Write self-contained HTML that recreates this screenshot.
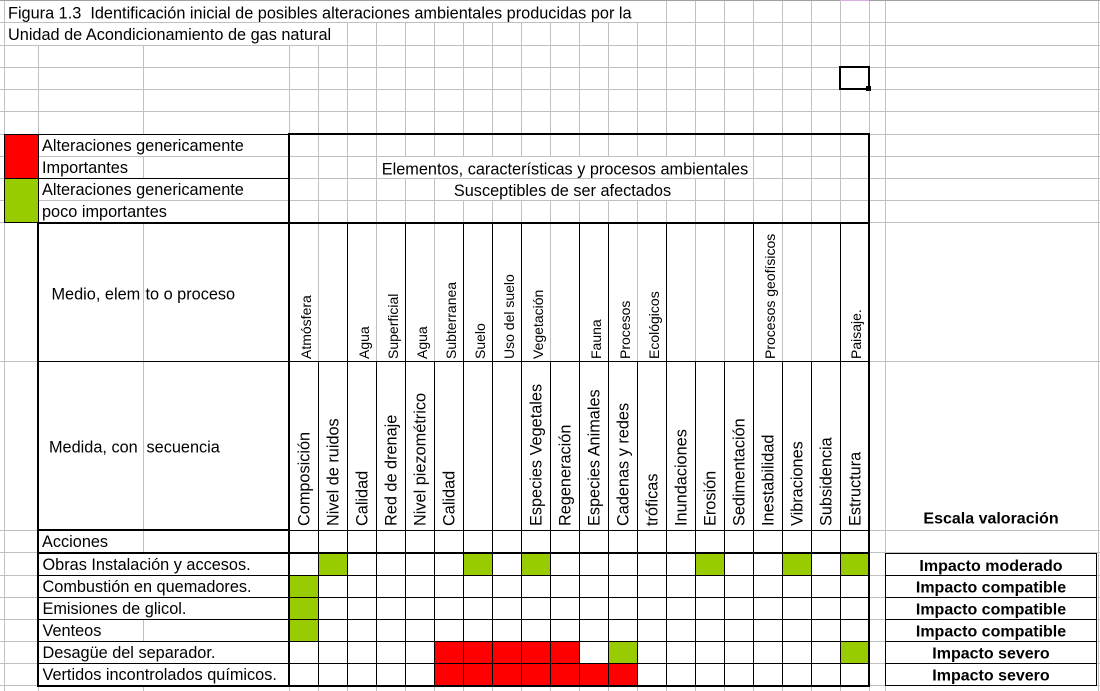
<!DOCTYPE html>
<html><head><meta charset="utf-8"><style>
html,body{margin:0;padding:0;background:#fff;}
svg{display:block;}
text{font-family:"Liberation Sans",Arial,sans-serif;font-size:16.3px;fill:#000;}
.b{font-weight:bold;font-size:16px;}
.s{font-size:14px;}
</style></head><body>
<svg width="1100" height="691" viewBox="0 0 1100 691" xmlns="http://www.w3.org/2000/svg">
<rect width="1100" height="691" fill="#fff"/>
<g shape-rendering="crispEdges">
<!-- gridlines -->
<g fill="#c0c0c0">
<rect x="4" y="0" width="1" height="691"/><rect x="38" y="0" width="1" height="691"/><rect x="143" y="0" width="1" height="691"/>
<rect x="289" y="0" width="1" height="691"/><rect x="318" y="0" width="1" height="691"/><rect x="347" y="0" width="1" height="691"/>
<rect x="376" y="0" width="1" height="691"/><rect x="405" y="0" width="1" height="691"/><rect x="434" y="0" width="1" height="691"/>
<rect x="463" y="0" width="1" height="691"/><rect x="492" y="0" width="1" height="691"/><rect x="521" y="0" width="1" height="691"/>
<rect x="550" y="0" width="1" height="691"/><rect x="579" y="0" width="1" height="691"/><rect x="608" y="0" width="1" height="691"/>
<rect x="637" y="0" width="1" height="691"/><rect x="666" y="0" width="1" height="691"/><rect x="695" y="0" width="1" height="691"/>
<rect x="724" y="0" width="1" height="691"/><rect x="753" y="0" width="1" height="691"/><rect x="782" y="0" width="1" height="691"/>
<rect x="811" y="0" width="1" height="691"/><rect x="840" y="0" width="1" height="691"/><rect x="869" y="0" width="1" height="691"/>
<rect x="885" y="0" width="1" height="691"/><rect x="1098" y="0" width="1" height="691"/>
<rect x="0" y="22" width="1100" height="1"/><rect x="0" y="45" width="1100" height="1"/><rect x="0" y="67" width="1100" height="1"/>
<rect x="0" y="89" width="1100" height="1"/><rect x="0" y="111" width="1100" height="1"/><rect x="0" y="134" width="1100" height="1"/>
<rect x="0" y="156" width="1100" height="1"/><rect x="0" y="178" width="1100" height="1"/><rect x="0" y="200" width="1100" height="1"/>
<rect x="0" y="222" width="1100" height="1"/><rect x="0" y="361" width="1100" height="1"/><rect x="0" y="530" width="1100" height="1"/>
<rect x="0" y="552" width="1100" height="1"/><rect x="0" y="575" width="1100" height="1"/><rect x="0" y="597" width="1100" height="1"/>
<rect x="0" y="619" width="1100" height="1"/><rect x="0" y="641" width="1100" height="1"/><rect x="0" y="663" width="1100" height="1"/>
<rect x="0" y="685" width="1100" height="1"/>
</g>
<rect x="0" y="0" width="1100" height="1" fill="#a0a0a0"/>
<rect x="840" y="0" width="29" height="1" fill="#d8b0e0"/>

<!-- hide gridlines under overflowing text -->
<g fill="#fff">
<rect x="5" y="1" width="661" height="21"/>
<rect x="5" y="23" width="340" height="22"/>
<rect x="139" y="135" width="10" height="21"/>
<rect x="139" y="179" width="10" height="21"/>
<rect x="139" y="201" width="10" height="21"/>
<rect x="400" y="157" width="330" height="21"/>
<rect x="458" y="179" width="213" height="21"/>
<rect x="139" y="554" width="10" height="21"/>
<rect x="139" y="576" width="10" height="21"/>
<rect x="139" y="598" width="10" height="21"/>
<rect x="139" y="642" width="10" height="21"/>
<rect x="139" y="664" width="10" height="21"/>
</g>

<!-- fills -->
<rect x="4" y="134" width="34" height="44" fill="#ff0000"/>
<rect x="4" y="178" width="34" height="44" fill="#99cc00"/>
<g fill="#99cc00">
<rect x="318" y="552" width="29" height="23"/>
<rect x="463" y="552" width="29" height="23"/>
<rect x="521" y="552" width="29" height="23"/>
<rect x="695" y="552" width="29" height="23"/>
<rect x="782" y="552" width="29" height="23"/>
<rect x="840" y="552" width="29" height="23"/>
<rect x="289" y="575" width="29" height="22"/>
<rect x="289" y="597" width="29" height="22"/>
<rect x="289" y="619" width="29" height="22"/>
<rect x="608" y="641" width="29" height="22"/>
<rect x="840" y="641" width="29" height="22"/>
</g>
<g fill="#ff0000">
<rect x="434" y="641" width="145" height="22"/>
<rect x="434" y="663" width="203" height="22"/>
</g>

<!-- black borders -->
<g fill="#000">
<!-- legend -->
<rect x="4" y="134" width="285" height="1"/>
<rect x="4" y="178" width="285" height="1"/>
<rect x="4" y="222" width="34" height="1"/>
<rect x="4" y="134" width="1" height="89"/>
<rect x="38" y="134" width="1" height="89"/>
<!-- thin horizontals -->
<rect x="38" y="361" width="831" height="1"/>
<rect x="289" y="530" width="580" height="1"/>
<rect x="38" y="575" width="831" height="1"/>
<rect x="38" y="597" width="831" height="1"/>
<rect x="38" y="619" width="831" height="1"/>
<rect x="38" y="641" width="831" height="1"/>
<rect x="38" y="663" width="831" height="1"/>
<!-- medio row verticals -->
<rect x="347" y="222" width="1" height="139"/><rect x="405" y="222" width="1" height="139"/>
<rect x="463" y="222" width="1" height="139"/><rect x="492" y="222" width="1" height="139"/>
<rect x="521" y="222" width="1" height="139"/><rect x="579" y="222" width="1" height="139"/>
<rect x="608" y="222" width="1" height="139"/><rect x="666" y="222" width="1" height="139"/>
<rect x="753" y="222" width="1" height="139"/><rect x="840" y="222" width="1" height="139"/>
<!-- lower verticals -->
<rect x="318" y="361" width="1" height="325"/><rect x="347" y="361" width="1" height="325"/>
<rect x="376" y="361" width="1" height="325"/><rect x="405" y="361" width="1" height="325"/>
<rect x="434" y="361" width="1" height="325"/><rect x="463" y="361" width="1" height="325"/>
<rect x="492" y="361" width="1" height="325"/><rect x="521" y="361" width="1" height="325"/>
<rect x="550" y="361" width="1" height="325"/><rect x="579" y="361" width="1" height="325"/>
<rect x="608" y="361" width="1" height="325"/><rect x="637" y="361" width="1" height="325"/>
<rect x="666" y="361" width="1" height="325"/><rect x="695" y="361" width="1" height="325"/>
<rect x="724" y="361" width="1" height="325"/><rect x="753" y="361" width="1" height="325"/>
<rect x="782" y="361" width="1" height="325"/><rect x="811" y="361" width="1" height="325"/>
<rect x="840" y="361" width="1" height="325"/>
<!-- thick -->
<rect x="288" y="133" width="582" height="2"/>
<rect x="37" y="222" width="833" height="2"/>
<rect x="37" y="529" width="253" height="2"/>
<rect x="37" y="552" width="833" height="2"/>
<rect x="37" y="685" width="833" height="2"/>
<rect x="37" y="222" width="2" height="465"/>
<rect x="288" y="133" width="2" height="554"/>
<rect x="868" y="133" width="2" height="554"/>
<!-- escala box -->
<rect x="885" y="553" width="1" height="133"/>
<rect x="1096" y="553" width="1" height="133"/>
<rect x="885" y="553" width="212" height="1"/>
<rect x="885" y="575" width="212" height="1"/>
<rect x="885" y="597" width="212" height="1"/>
<rect x="885" y="619" width="212" height="1"/>
<rect x="885" y="641" width="212" height="1"/>
<rect x="885" y="663" width="212" height="1"/>
<rect x="885" y="685" width="212" height="1"/>
<!-- selection box -->
<rect x="839" y="66" width="31" height="2"/>
<rect x="839" y="88" width="31" height="2"/>
<rect x="839" y="66" width="2" height="24"/>
<rect x="868" y="66" width="2" height="24"/>
<rect x="866" y="86" width="5" height="5"/>
</g>
</g>

<!-- text -->
<text x="8" y="18.5" xml:space="preserve">Figura 1.3  Identificación inicial de posibles alteraciones ambientales producidas por la</text>
<text x="8" y="40">Unidad de Acondicionamiento de gas natural</text>

<text x="42" y="151">Alteraciones genericamente</text>
<text x="42" y="173">Importantes</text>
<text x="42" y="195">Alteraciones genericamente</text>
<text x="42" y="217">poco importantes</text>

<text x="565" y="174.5" text-anchor="middle">Elementos, características y procesos ambientales</text>
<text x="562.5" y="196" text-anchor="middle">Susceptibles de ser afectados</text>

<text x="51.5" y="299.5">Medio, elem</text>
<text x="145.5" y="299.5">to o proceso</text>
<text x="49" y="452.5">Medida, con</text>
<text x="146.5" y="452.5">secuencia</text>

<!-- Medio row rotated -->
<g class="s">
<text class="s" transform="translate(311,359) rotate(-90)">Atmósfera</text>
<text class="s" transform="translate(369,359) rotate(-90)">Agua</text>
<text class="s" transform="translate(398,359) rotate(-90)">Superficial</text>
<text class="s" transform="translate(427,359) rotate(-90)">Agua</text>
<text class="s" transform="translate(456,359) rotate(-90)">Subterranea</text>
<text class="s" transform="translate(485,359) rotate(-90)">Suelo</text>
<text class="s" transform="translate(514,359) rotate(-90)">Uso del suelo</text>
<text class="s" transform="translate(543,359) rotate(-90)">Vegetación</text>
<text class="s" transform="translate(601,359) rotate(-90)">Fauna</text>
<text class="s" transform="translate(630,359) rotate(-90)">Procesos</text>
<text class="s" transform="translate(659,359) rotate(-90)">Ecológicos</text>
<text class="s" transform="translate(775,359) rotate(-90)">Procesos geofísicos</text>
<text class="s" transform="translate(861,359) rotate(-90)">Paisaje.</text>
</g>

<!-- Medida row rotated -->
<text transform="translate(309.5,526) rotate(-90)">Composición</text>
<text transform="translate(338.5,526) rotate(-90)">Nivel de ruidos</text>
<text transform="translate(367.5,526) rotate(-90)">Calidad</text>
<text transform="translate(396.5,526) rotate(-90)">Red de drenaje</text>
<text transform="translate(425.5,526) rotate(-90)">Nivel piezométrico</text>
<text transform="translate(454.5,526) rotate(-90)">Calidad</text>
<text transform="translate(541.5,526) rotate(-90)">Especies Vegetales</text>
<text transform="translate(570.5,526) rotate(-90)">Regeneración</text>
<text transform="translate(599.5,526) rotate(-90)">Especies Animales</text>
<text transform="translate(628.5,526) rotate(-90)">Cadenas y redes</text>
<text transform="translate(657.5,526) rotate(-90)">tróficas</text>
<text transform="translate(686.5,526) rotate(-90)">Inundaciones</text>
<text transform="translate(715.5,526) rotate(-90)">Erosión</text>
<text transform="translate(744.5,526) rotate(-90)">Sedimentación</text>
<text transform="translate(773.5,526) rotate(-90)">Inestabilidad</text>
<text transform="translate(802.5,526) rotate(-90)">Vibraciones</text>
<text transform="translate(831.5,526) rotate(-90)">Subsidencia</text>
<text transform="translate(860.5,526) rotate(-90)">Estructura</text>

<text x="42" y="547">Acciones</text>
<text x="42.5" y="570">Obras Instalación y accesos.</text>
<text x="42.5" y="592">Combustión en quemadores.</text>
<text x="42.5" y="614">Emisiones de glicol.</text>
<text x="42.5" y="636">Venteos</text>
<text x="42.5" y="658">Desagüe del separador.</text>
<text x="42.5" y="680">Vertidos incontrolados químicos.</text>

<text class="b" x="991" y="523.5" text-anchor="middle">Escala valoración</text>
<text class="b" x="991" y="571" text-anchor="middle">Impacto moderado</text>
<text class="b" x="991" y="592.5" text-anchor="middle">Impacto compatible</text>
<text class="b" x="991" y="614.5" text-anchor="middle">Impacto compatible</text>
<text class="b" x="991" y="636.5" text-anchor="middle">Impacto compatible</text>
<text class="b" x="991" y="658.5" text-anchor="middle">Impacto severo</text>
<text class="b" x="991" y="680.5" text-anchor="middle">Impacto severo</text>
</svg>
</body></html>
